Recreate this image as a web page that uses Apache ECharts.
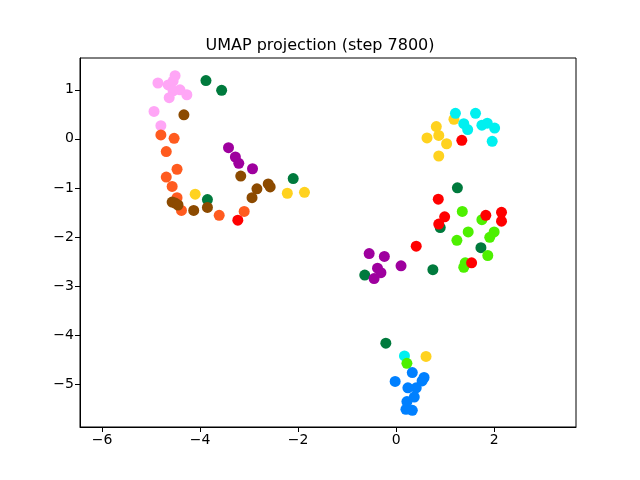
<!DOCTYPE html>
<html><head><meta charset="utf-8">
<script src="https://cdn.jsdelivr.net/npm/echarts@6/dist/echarts.min.js"></script>
<style>html,body{margin:0;padding:0;background:#fff}#c{width:640px;height:480px}</style>
</head><body><div id="c"></div>
<script>
const titleText = 'UMAP projection (step 7800)';
const xTicks = [-6, -4, -2, 0, 2];
const yTicks = [-5, -4, -3, -2, -1, 0, 1];

const pinkPts = [[-4.86,1.14],[-4.65,1.10],[-4.55,1.18],[-4.51,1.29],[-4.55,0.98],[-4.41,1.00],[-4.63,0.84],[-4.27,0.90],[-4.94,0.56],[-4.80,0.27]];
const orangePts = [[-4.80,0.08],[-4.53,0.01],[-4.69,-0.26],[-4.47,-0.62],[-4.69,-0.78],[-4.57,-0.97],[-4.47,-1.20],[-4.38,-1.46],[-3.61,-1.56],[-3.10,-1.48]];
const darkGreenPts = [[-3.88,1.19],[-3.56,0.99],[-2.10,-0.81],[-3.85,-1.24],[1.25,-1.00],[0.90,-1.81],[1.73,-2.22],[0.75,-2.67],[-0.64,-2.78],[-0.21,-4.17]];
const brownPts = [[-4.33,0.49],[-4.57,-1.29],[-4.51,-1.31],[-4.45,-1.35],[-4.13,-1.46],[-3.85,-1.40],[-3.17,-0.76],[-2.84,-1.02],[-2.94,-1.20],[-2.61,-0.92],[-2.57,-0.98]];
const purplePts = [[-3.42,-0.18],[-3.28,-0.37],[-3.21,-0.50],[-2.93,-0.61],[-0.55,-2.34],[-0.24,-2.40],[-0.38,-2.64],[-0.31,-2.73],[-0.45,-2.85],[0.10,-2.59]];
const yellowPts = [[-4.10,-1.13],[-2.22,-1.11],[-1.87,-1.09],[1.18,0.40],[0.82,0.25],[0.87,0.07],[0.63,0.02],[1.03,-0.10],[0.87,-0.35],[0.61,-4.44]];
const cyanPts = [[1.21,0.52],[1.62,0.52],[1.38,0.31],[1.46,0.19],[1.75,0.28],[1.86,0.32],[2.01,0.22],[1.96,-0.05],[0.17,-4.43]];
const limePts = [[1.35,-1.48],[1.75,-1.65],[1.47,-1.90],[1.24,-2.07],[2.00,-1.90],[1.91,-2.01],[1.87,-2.38],[1.41,-2.53],[1.38,-2.62],[0.22,-4.58]];
const bluePts = [[0.33,-4.77],[-0.02,-4.95],[0.57,-4.87],[0.53,-4.94],[0.24,-5.08],[0.41,-5.08],[0.37,-5.27],[0.22,-5.36],[0.20,-5.52],[0.33,-5.54]];
const redPts = [[-3.23,-1.66],[1.34,-0.03],[0.86,-1.23],[0.99,-1.59],[0.87,-1.74],[0.41,-2.19],[1.83,-1.56],[2.15,-1.50],[2.15,-1.68],[1.54,-2.53]];

const groups = [pinkPts, orangePts, darkGreenPts, brownPts, purplePts, yellowPts, cyanPts, limePts, bluePts, redPts];
const colors = ['#ffa6f6', '#ff5b1f', '#007a3d', '#8c4a00', '#9e009e', '#ffd21f', '#00f0f0', '#4df000', '#0080ff', '#ff0000'];

const fmt = v => String(v).replace('-', '\u2212');
const chart = echarts.init(document.getElementById('c'), null, {renderer: 'canvas'});
chart.setOption({
  animation: false,
  backgroundColor: '#fff',
  title: {text: titleText, left: 'center', top: 33, textStyle: {fontFamily: 'DejaVu Sans', fontSize: 16, fontWeight: 'normal', color: '#000'}},
  grid: {left: 80, right: 64, top: 58, bottom: 53, show: true, borderColor: '#000', borderWidth: 1, backgroundColor: 'transparent'},
  xAxis: {type: 'value', min: -6.45, max: 3.67, splitLine: {show: false},
    axisLine: {show: true, onZero: false, lineStyle: {color: '#000'}},
    axisTick: {show: true, length: 5, lineStyle: {color: '#000'}, customValues: xTicks},
    axisLabel: {color: '#000', fontFamily: 'DejaVu Sans', fontSize: 14, margin: 6, customValues: xTicks, formatter: fmt}},
  yAxis: {type: 'value', min: -5.88, max: 1.65, splitLine: {show: false},
    axisLine: {show: true, onZero: false, lineStyle: {color: '#000'}},
    axisTick: {show: true, length: 5, lineStyle: {color: '#000'}, customValues: yTicks},
    axisLabel: {color: '#000', fontFamily: 'DejaVu Sans', fontSize: 14, margin: 6, customValues: yTicks, formatter: fmt}},
  series: groups.map((g, i) => ({type: 'scatter', data: g, symbolSize: 11, itemStyle: {color: colors[i], opacity: 1}, z: 2 + i}))
});
</script></body></html>
